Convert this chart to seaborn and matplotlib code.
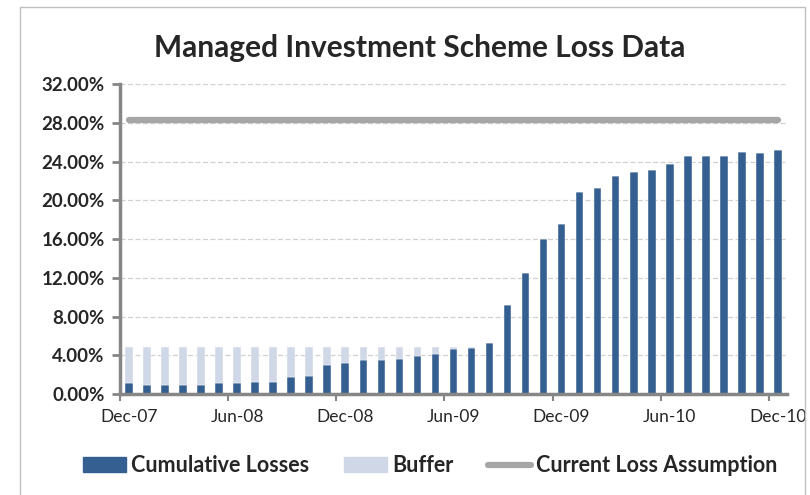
import numpy as np
import pandas as pd
import seaborn as sns
import matplotlib.pyplot as plt
from matplotlib.patches import Patch, Rectangle
from matplotlib.lines import Line2D
from matplotlib.ticker import FuncFormatter, MultipleLocator, FixedLocator

# dados (valores em %)
months = pd.date_range("2007-12-01", "2010-12-01", freq="MS").strftime("%b-%y").tolist()
losses = [1.10, 0.97, 0.97, 0.97, 0.97, 1.10, 1.10, 1.28, 1.28, 1.76, 1.90, 3.03, 3.21,
          3.52, 3.52, 3.65, 3.97, 4.14, 4.62, 4.76, 5.24, 9.18, 12.50, 16.00, 17.56,
          20.90, 21.30, 22.50, 22.96, 23.13, 23.75, 24.54, 24.54, 24.54, 25.02, 24.85, 25.15]
buffer = [3.80, 3.93, 3.93, 3.93, 3.93, 3.80, 3.80, 3.62, 3.62, 3.14, 3.00, 1.87, 1.69,
          1.38, 1.38, 1.25, 0.93, 0.76, 0.28, 0.14, 0, 0, 0, 0, 0,
          0, 0, 0, 0, 0, 0, 0, 0, 0, 0, 0, 0]
assumption = [28.3] * len(months)
tick_labels = ["Dec-07", "Jun-08", "Dec-08", "Jun-09", "Dec-09", "Jun-10", "Dec-10"]

sns.set_theme(style="white")
plt.rcParams['font.family'] = ['Lato', 'DejaVu Sans']

df = pd.DataFrame({"month": months, "losses": losses, "buffer": buffer, "assumption": assumption})

dark = "#365f91"
light = "#d0d8e8"
grey = "#a6a6a6"
axis_grey = "#868686"

fig = plt.figure(figsize=(8.1, 4.95), dpi=100)
ax = fig.add_axes([0.148, 0.204, 0.8236, 0.626])

# grelha tracejada
for v in range(4, 33, 4):
    ax.axhline(v, color="#d0d0d0", lw=0.9, ls=(0, (4, 2)), zorder=0)

sns.barplot(data=df, x="month", y="losses", order=months, color=dark, width=0.42,
            saturation=1, edgecolor="white", linewidth=0.3, ax=ax, zorder=2)
sns.barplot(data=df, x="month", y="buffer", order=months, color=light, width=0.42,
            saturation=1, bottom=df["losses"].values, edgecolor="white", linewidth=0.3,
            ax=ax, zorder=2)
ax.plot(range(len(months)), assumption, color=grey, lw=4.5, solid_capstyle="round", zorder=3)

ax.set_xlim(-0.5, len(months) - 0.5)
ax.set_ylim(0, 32)
ax.set_xlabel("")
ax.set_ylabel("")

ax.yaxis.set_major_locator(MultipleLocator(4))
ax.yaxis.set_major_formatter(FuncFormatter(lambda v, p: f"{v:.2f}%"))
ax.tick_params(axis="y", which="major", length=6, width=2, color=axis_grey, direction="out",
               labelsize=13.5, pad=5, left=True)
for t in ax.get_yticklabels():
    t.set_fontweight("bold")

ax.set_xticks(range(0, len(months), 6))
ax.set_xticklabels(tick_labels, fontsize=12.5)
ax.xaxis.set_minor_locator(FixedLocator(np.arange(-0.5, len(months) - 1, 6)))
ax.tick_params(axis="x", which="major", length=0, pad=11)
ax.tick_params(axis="x", which="minor", length=5, width=1.5, color=axis_grey, direction="out",
               bottom=True)

for s in ["top", "right"]:
    ax.spines[s].set_visible(False)
for s in ["left", "bottom"]:
    ax.spines[s].set_color(axis_grey)
    ax.spines[s].set_linewidth(2.5)

fig.text(0.5185, 0.903, "Managed Investment Scheme Loss Data", ha="center", va="center",
         fontsize=21.5, fontweight="bold")

handles = [Patch(color=dark), Patch(color=light), Line2D([0], [0], color=grey, lw=4.5)]
labels = ["Cumulative Losses", "Buffer", "Current Loss Assumption"]
fig.legend(handles, labels, loc="center", bbox_to_anchor=(0.531, 0.059), ncol=3, frameon=False,
           prop={"weight": "bold", "size": 15.5}, handlelength=2.0, handleheight=0.7,
           handletextpad=0.25, columnspacing=1.6)

# moldura do grafico
fig.patches.append(Rectangle((20 / 810, -0.01), 785 / 810, 1 - 7 / 495 + 0.01,
                             transform=fig.transFigure, fill=False, edgecolor="#bfbfbf", lw=1))

fig.savefig("out.png", dpi=100)
